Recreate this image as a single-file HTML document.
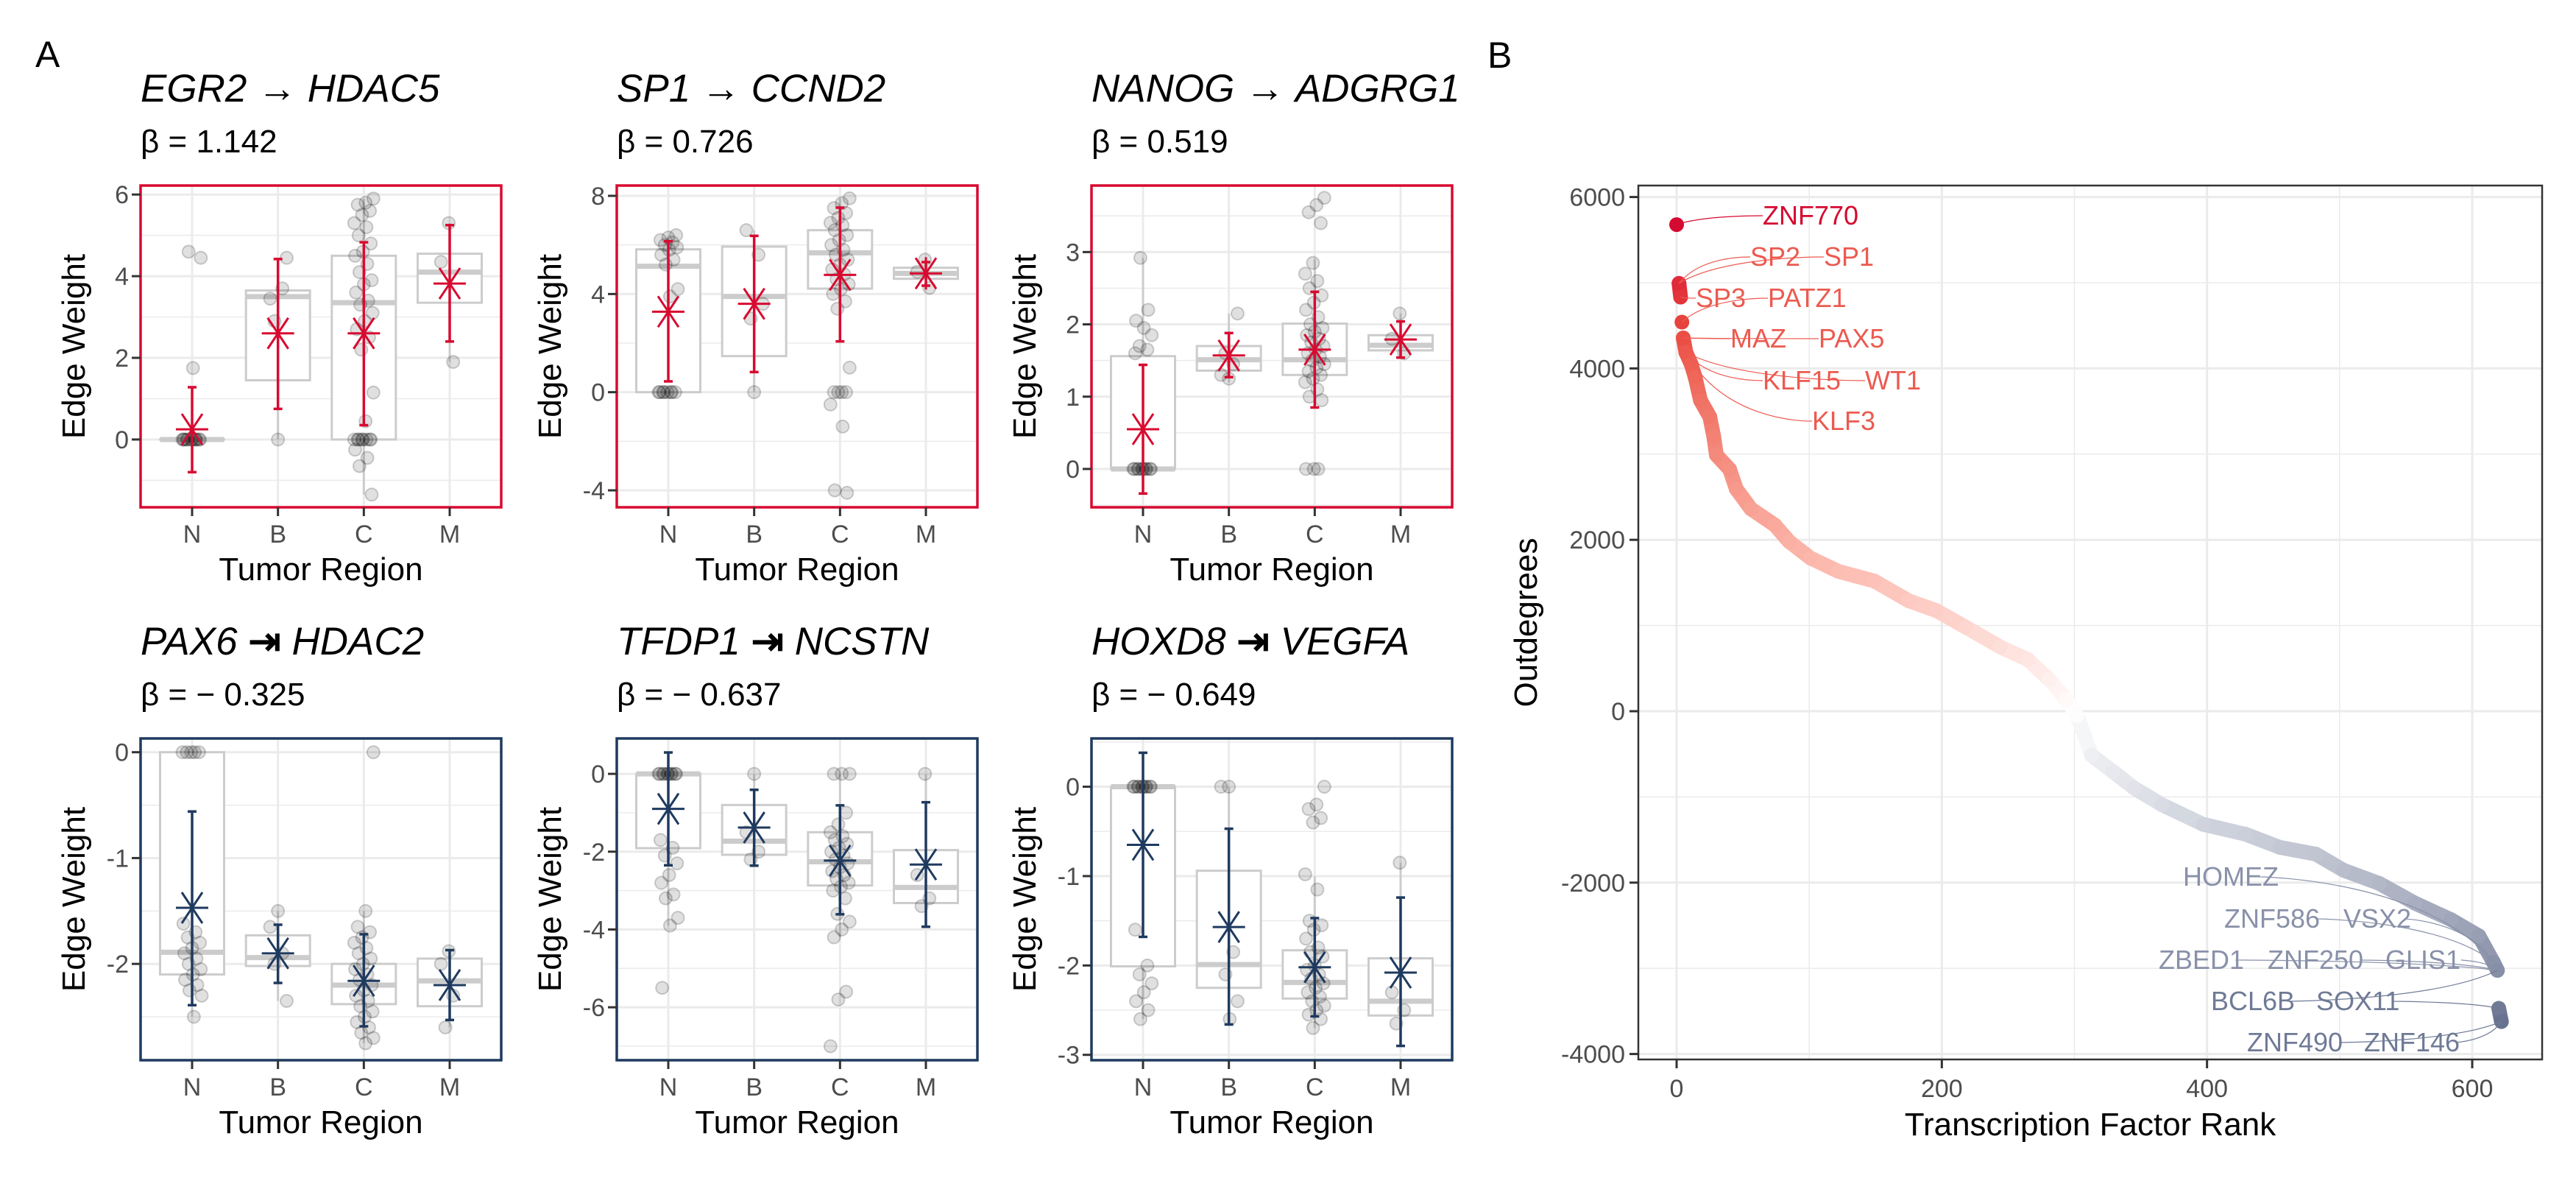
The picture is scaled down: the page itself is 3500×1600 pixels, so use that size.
<!DOCTYPE html>
<html><head><meta charset="utf-8"><title>Edge weights and outdegrees</title>
<style>
html,body{margin:0;padding:0;background:#fff;}
svg{display:block;font-family:"Liberation Sans",Arial,sans-serif;}
</style></head>
<body>
<svg id="fig" width="3500" height="1600" viewBox="0 0 3500 1600" xmlns="http://www.w3.org/2000/svg">
<rect width="3500" height="1600" fill="#fff"/>
<text x="48" y="91" font-size="50">A</text>
<text x="2021" y="92" font-size="50">B</text>
</svg>
<script>
const categories = ['N','B','C','M'];

// Box stats per group: [q1, median, q3, whiskerLo, whiskerHi]
const egr2Box = [[0,0,0,0,0],[1.45,3.5,3.65,0,4.45],[0,3.35,4.5,-1.35,5.9],[3.35,4.1,4.55,1.9,5.3]];
const egr2Mean = [0.25,2.6,2.6,3.82];
const egr2Lo = [-0.8,0.75,0.35,2.4];
const egr2Hi = [1.28,4.42,4.83,5.25];
const egr2Points = [[0,0,0,0,0,0,0,0,0,0,0,0,4.6,4.45,1.75],[0,3.45,3.7,2.9,4.45],[5.9,5.8,5.75,5.6,5.5,5.3,5.2,5.0,4.8,4.6,4.5,4.3,4.1,3.9,3.8,3.6,3.4,3.3,3.1,2.9,2.7,2.5,2.2,1.15,0.45,0,0,0,0,0,0,0,0,-0.25,-0.45,-0.65,-1.35],[5.3,4.35,1.9]];

const sp1Box = [[0,5.13,5.82,0,6.4],[1.47,3.9,5.93,0,6.6],[4.22,5.68,6.6,2.0,7.9],[4.62,4.84,5.07,4.25,5.4]];
const sp1Mean = [3.28,3.6,4.78,4.84];
const sp1Lo = [0.44,0.82,2.07,4.34];
const sp1Hi = [6.15,6.37,7.52,5.3];
const sp1Points = [[0,0,0,0,0,0,0,0,6.4,6.3,6.2,6.1,6.0,5.9,5.8,5.6,5.4,5.2,4.2,3.9],[0,6.6,5.6,3.0,3.6],[7.9,7.7,7.5,7.3,7.1,6.9,6.8,6.6,6.4,6.2,6.0,5.8,5.6,5.4,5.2,5.0,4.8,4.6,4.4,4.2,4.0,3.7,3.4,1.0,0,0,0,0,-0.5,-1.4,-4.0,-4.1],[5.4,4.9,4.25]];

const nanogBox = [[0,0,1.56,0,2.92],[1.36,1.51,1.7,1.2,2.15],[1.3,1.51,2.01,0.95,2.9],[1.64,1.71,1.85,1.55,2.15]];
const nanogMean = [0.55,1.57,1.65,1.79];
const nanogLo = [-0.34,1.27,0.85,1.54];
const nanogHi = [1.44,1.88,2.45,2.04];
const nanogPoints = [[0,0,0,0,0,0,0,0,0,0,1.6,1.65,1.7,1.85,1.95,2.05,2.2,2.92],[1.25,1.3,1.45,1.6,2.15],[3.75,3.65,3.55,3.4,2.85,2.7,2.6,2.5,2.4,2.3,2.2,2.1,2.0,1.95,1.9,1.85,1.8,1.75,1.7,1.65,1.6,1.55,1.5,1.45,1.4,1.35,1.3,1.25,1.2,1.1,1.0,0.95,0,0,0],[2.15,1.8,1.6]];

const pax6Box = [[-2.1,-1.89,0,-2.5,0],[-2.02,-1.94,-1.73,-2.35,-1.5],[-2.38,-2.2,-2.0,-2.75,-1.5],[-2.4,-2.16,-1.95,-2.6,-1.88]];
const pax6Mean = [-1.47,-1.9,-2.16,-2.2];
const pax6Lo = [-2.39,-2.18,-2.59,-2.53];
const pax6Hi = [-0.56,-1.63,-1.72,-1.87];
const pax6Points = [[0,0,0,0,0,-1.62,-1.7,-1.75,-1.8,-1.85,-1.9,-1.95,-2.0,-2.05,-2.1,-2.15,-2.2,-2.25,-2.3,-2.5],[-1.5,-1.65,-1.9,-2.0,-2.35],[0,-1.5,-1.65,-1.7,-1.75,-1.8,-1.85,-1.9,-1.95,-2.0,-2.05,-2.1,-2.15,-2.2,-2.25,-2.3,-2.35,-2.4,-2.45,-2.5,-2.55,-2.6,-2.65,-2.7,-2.75],[-1.88,-2.0,-2.3,-2.6]];

const tfdp1Box = [[-1.91,0,0,-3.9,0],[-2.08,-1.73,-0.8,-2.3,0],[-2.87,-2.26,-1.5,-4.2,0],[-3.32,-2.92,-1.96,-3.4,0]];
const tfdp1Mean = [-0.9,-1.38,-2.23,-2.33];
const tfdp1Lo = [-2.35,-2.36,-3.61,-3.93];
const tfdp1Hi = [0.55,-0.41,-0.81,-0.73];
const tfdp1Points = [[0,0,0,0,0,0,0,0,0,0,-1.7,-1.9,-2.1,-2.3,-2.6,-2.8,-3.1,-3.2,-3.7,-3.9,-5.5],[0,-1.5,-2.0,-2.2],[0,0,0,-1.0,-1.3,-1.5,-1.6,-1.7,-1.8,-1.9,-2.0,-2.1,-2.2,-2.3,-2.4,-2.5,-2.6,-2.7,-2.8,-2.9,-3.0,-3.2,-3.6,-3.8,-4.0,-4.2,-5.6,-5.8,-7.0],[0,-2.6,-3.2,-3.4]];

const hoxd8Box = [[-2.01,0,0,-2.6,0],[-2.25,-1.99,-0.94,-2.6,0],[-2.37,-2.19,-1.83,-2.7,-1.0],[-2.56,-2.4,-1.92,-2.65,-0.85]];
const hoxd8Mean = [-0.65,-1.57,-2.02,-2.08];
const hoxd8Lo = [-1.68,-2.66,-2.57,-2.9];
const hoxd8Hi = [0.38,-0.47,-1.47,-1.24];
const hoxd8Points = [[0,0,0,0,0,0,0,0,0,0,-1.6,-2.0,-2.1,-2.2,-2.3,-2.4,-2.5,-2.6],[0,0,-1.85,-2.1,-2.4,-2.6],[0,-0.2,-0.25,-0.35,-0.4,-0.98,-1.15,-1.5,-1.55,-1.6,-1.7,-1.8,-1.85,-1.9,-2.0,-2.05,-2.1,-2.15,-2.2,-2.25,-2.3,-2.35,-2.4,-2.45,-2.5,-2.55,-2.6,-2.7],[-0.85,-2.3,-2.5,-2.65]];

const egr2Ticks = [0,2,4,6];
const sp1Ticks = [-4,0,4,8];
const nanogTicks = [0,1,2,3];
const pax6Ticks = [-2,-1,0];
const tfdp1Ticks = [-6,-4,-2,0];
const hoxd8Ticks = [-3,-2,-1,0];

// Panel B data
const tfRank = [0,1.8,3,4,5,7,11,14,18,25,28,30,40,45,56,74,85,101,122,149,175,196,218,244,265,281,294,302,313,329,345,366,397,429,455,482,503,530,557,584,605,616,619,620,622];
const tfOutdegree = [5678,4993,4832,4540,4356,4187,4050,3896,3627,3436,3205,2990,2822,2594,2362,2173,1978,1787,1632,1520,1289,1173,981,751,601,369,137,-52,-515,-704,-897,-1091,-1320,-1435,-1589,-1667,-1856,-2010,-2241,-2432,-2621,-2930,-3024,-3467,-3621];
const bTicksY = [-4000,-2000,0,2000,4000,6000];
const bTicksX = [0,200,400,600];
const tfLabels = ['ZNF770','SP2','SP1','SP3','PATZ1','MAZ','PAX5','KLF15','WT1','KLF3','HOMEZ','ZNF586','VSX2','ZBED1','ZNF250','GLIS1','BCL6B','SOX11','ZNF490','ZNF146'];
const tfLabelRank = [0,1.8,1.8,3,4,5,5,7,7,7,616,616,616,619,619,619,619,620,622,622];
const tfLabelValue = [5678,4993,4993,4832,4540,4356,4356,4187,4187,4187,-2930,-2930,-2930,-3024,-3024,-3024,-3024,-3467,-3621,-3621];

const NS = 'http://www.w3.org/2000/svg';
const svg = document.getElementById('fig');
function mk(tag, attrs, parent) {
  const e = document.createElementNS(NS, tag);
  for (const k in attrs) e.setAttribute(k, attrs[k]);
  (parent || svg).appendChild(e);
  return e;
}
const RED = '#D80A30', NAVY = '#1F3A5F';

const panels = [
  {key:'egr2', tf:'EGR2', tg:'HDAC5', arrow:'\u2192', beta:'\u03B2 = 1.142', left:191, top:252, dom:[-1.66,6.22], ticks:egr2Ticks, box:egr2Box, mean:egr2Mean, lo:egr2Lo, hi:egr2Hi, pts:egr2Points, col:RED},
  {key:'sp1', tf:'SP1', tg:'CCND2', arrow:'\u2192', beta:'\u03B2 = 0.726', left:838, top:252, dom:[-4.69,8.42], ticks:sp1Ticks, box:sp1Box, mean:sp1Mean, lo:sp1Lo, hi:sp1Hi, pts:sp1Points, col:RED},
  {key:'nanog', tf:'NANOG', tg:'ADGRG1', arrow:'\u2192', beta:'\u03B2 = 0.519', left:1483, top:252, dom:[-0.53,3.92], ticks:nanogTicks, box:nanogBox, mean:nanogMean, lo:nanogLo, hi:nanogHi, pts:nanogPoints, col:RED},
  {key:'pax6', tf:'PAX6', tg:'HDAC2', arrow:'\u21E5', beta:'\u03B2 = \u2212 0.325', left:191, top:1003, dom:[-2.91,0.13], ticks:pax6Ticks, box:pax6Box, mean:pax6Mean, lo:pax6Lo, hi:pax6Hi, pts:pax6Points, col:NAVY},
  {key:'tfdp1', tf:'TFDP1', tg:'NCSTN', arrow:'\u21E5', beta:'\u03B2 = \u2212 0.637', left:838, top:1003, dom:[-7.36,0.91], ticks:tfdp1Ticks, box:tfdp1Box, mean:tfdp1Mean, lo:tfdp1Lo, hi:tfdp1Hi, pts:tfdp1Points, col:NAVY},
  {key:'hoxd8', tf:'HOXD8', tg:'VEGFA', arrow:'\u21E5', beta:'\u03B2 = \u2212 0.649', left:1483, top:1003, dom:[-3.06,0.54], ticks:hoxd8Ticks, box:hoxd8Box, mean:hoxd8Mean, lo:hoxd8Lo, hi:hoxd8Hi, pts:hoxd8Points, col:NAVY}
];
const PW = 490, PH = 437;

panels.forEach(p => {
  const g = mk('g', {});
  
  
  const L = p.left, T = p.top, R = L + PW, B = T + PH;
  const y = v => B - (v - p.dom[0]) / (p.dom[1] - p.dom[0]) * PH;
  const x = i => L + (i + 0.6) / 4.2 * PW;
  const t = mk('text', {x:L, y:T-114, 'font-size':53}, g);
  
  
  const s1 = mk('tspan', {'font-style':'italic'}, t); s1.textContent = p.tf;
  const s2 = mk('tspan', {'font-weight':'bold'}, t); s2.textContent = ' ' + p.arrow + ' ';
  const s3 = mk('tspan', {'font-style':'italic'}, t); s3.textContent = p.tg;
  const bt = mk('text', {x:L, y:T-45, 'font-size':44}, g);
  
  
  bt.textContent = p.beta;
  const step = p.ticks[1] - p.ticks[0];
  for (let v = p.ticks[0] - step/2; v <= p.dom[1]; v += step/2) {
    if (v < p.dom[0]) continue;
    const major = p.ticks.some(tv => Math.abs(tv - v) < 1e-9);
    mk('line', {x1:L, x2:R, y1:y(v), y2:y(v), stroke:'#EBEBEB', 'stroke-width': major ? 3 : 1.5}, g);
  }
  categories.forEach((c, i) => mk('line', {x1:x(i), x2:x(i), y1:T, y2:B, stroke:'#EBEBEB', 'stroke-width':3}, g));
  categories.forEach((c, i) => {
    const [q1, md, q3, wl, wh] = p.box[i];
    const bw = 87;
    mk('line', {x1:x(i), x2:x(i), y1:y(q3), y2:y(wh), stroke:'#CCCCCC', 'stroke-width':3}, g);
    mk('line', {x1:x(i), x2:x(i), y1:y(q1), y2:y(wl), stroke:'#CCCCCC', 'stroke-width':3}, g);
    const r = mk('rect', {x:x(i)-bw/2, y:y(q3), width:bw, height:Math.max(0.1, y(q1)-y(q3)), fill:'#fff', stroke:'#CCCCCC', 'stroke-width':3}, g);
    
    
    mk('line', {x1:x(i)-bw/2, x2:x(i)+bw/2, y1:y(md), y2:y(md), stroke:'#CCCCCC', 'stroke-width':7}, g);
  });
  categories.forEach((c, i) => {
    p.pts[i].forEach((v, j) => {
      const jit = (((j * 37 + i * 11) % 23) / 22 - 0.5) * 26;
      const pt = mk('circle', {cx:x(i)+jit, cy:y(v), r:8.5, fill:'rgba(0,0,0,0.12)', stroke:'rgba(0,0,0,0.18)', 'stroke-width':2}, g);
      
      
    });
  });
  categories.forEach((c, i) => {
    const xi = x(i);
    mk('line', {x1:xi, x2:xi, y1:y(p.lo[i]), y2:y(p.hi[i]), stroke:p.col, 'stroke-width':3.5}, g);
    mk('line', {x1:xi-6, x2:xi+6, y1:y(p.lo[i]), y2:y(p.lo[i]), stroke:p.col, 'stroke-width':3.5}, g);
    mk('line', {x1:xi-6, x2:xi+6, y1:y(p.hi[i]), y2:y(p.hi[i]), stroke:p.col, 'stroke-width':3.5}, g);
    const ym = y(p.mean[i]);
    const m = mk('g', {stroke:p.col, 'stroke-width':3}, g);
    
    
    mk('line', {x1:xi-22, x2:xi+22, y1:ym, y2:ym}, m);
    mk('line', {x1:xi, x2:xi, y1:ym-22, y2:ym+22}, m);
    mk('line', {x1:xi-14, x2:xi+14, y1:ym-21, y2:ym+21}, m);
    mk('line', {x1:xi-14, x2:xi+14, y1:ym+21, y2:ym-21}, m);
  });
  const bd = mk('rect', {x:L, y:T, width:PW, height:PH, fill:'none', stroke:p.col, 'stroke-width':3.5}, g);
  
  
  p.ticks.forEach(v => {
    mk('line', {x1:L-12, x2:L, y1:y(v), y2:y(v), stroke:'#333', 'stroke-width':3}, g);
    const tl = mk('text', {x:L-16, y:y(v)+12, 'font-size':34, fill:'#4D4D4D', 'text-anchor':'end'}, g);
    
    
    tl.textContent = String(v);
  });
  categories.forEach((c, i) => {
    mk('line', {x1:x(i), x2:x(i), y1:B, y2:B+12, stroke:'#333', 'stroke-width':3}, g);
    const tl = mk('text', {x:x(i), y:B+48, 'font-size':34, fill:'#4D4D4D', 'text-anchor':'middle'}, g);
    
    
    tl.textContent = c;
  });
  const xt = mk('text', {x:L+PW/2, y:B+99, 'font-size':44, 'text-anchor':'middle'}, g);
  
  
  xt.textContent = 'Tumor Region';
  const yt = mk('text', {x:0, y:0, 'font-size':44, 'text-anchor':'middle', transform:`translate(${L-76},${T+PH/2}) rotate(-90)`}, g);
  
  
  yt.textContent = 'Edge Weight';
});

// ---------- Panel B ----------
(function(){
  const g = mk('g', {});
  
  
  const L = 2226, R = 3454, T = 252, B = 1439;
  const x = r => 2278 + r / 600 * (3359 - 2278);
  const y = v => 966 - v * 0.1164;
  mk('rect', {x:L, y:T, width:R-L, height:B-T, fill:'#fff'}, g);
  for (let v = -5000; v <= 6000; v += 1000) {
    if (y(v) < T || y(v) > B) continue;
    mk('line', {x1:L, x2:R, y1:y(v), y2:y(v), stroke:'#EBEBEB', 'stroke-width': v % 2000 === 0 ? 3 : 1.5}, g);
  }
  for (let r = -100; r <= 700; r += 100) {
    if (x(r) < L || x(r) > R) continue;
    mk('line', {x1:x(r), x2:x(r), y1:T, y2:B, stroke:'#EBEBEB', 'stroke-width': r % 200 === 0 ? 3 : 1.5}, g);
  }
  const stopsV = [-3650,-3000,-2000,-1000,0,1000,2000,3000,4000,4500,5680];
  const stopsC = [[103,114,142],[136,144,168],[179,184,199],[221,224,231],[255,255,255],[253,213,206],[251,175,163],[244,138,124],[238,99,85],[232,69,63],[213,10,48]];
  const colorOf = v => {
    v = Math.max(stopsV[0], Math.min(stopsV[stopsV.length-1], v));
    let k = 0; while (k < stopsV.length - 2 && v > stopsV[k+1]) k++;
    const t = (v - stopsV[k]) / (stopsV[k+1] - stopsV[k]);
    return 'rgb(' + stopsC[k].map((c, i) => Math.round(c + (stopsC[k+1][i] - c) * t)).join(',') + ')';
  };
  for (let i = 1; i < tfRank.length - 1; i++) {
    const slope = Math.abs(tfOutdegree[i+1] - tfOutdegree[i]) / (tfRank[i+1] - tfRank[i]);
    if (slope > 150) continue;
    const seg = mk('line', {x1:x(tfRank[i]), y1:y(tfOutdegree[i]), x2:x(tfRank[i+1]), y2:y(tfOutdegree[i+1]), stroke:colorOf((tfOutdegree[i]+tfOutdegree[i+1])/2), 'stroke-width':20, 'stroke-linecap':'round'}, g);
    
    
  }
  tfRank.forEach((r, i) => {
    const c = mk('circle', {cx:x(r), cy:y(tfOutdegree[i]), r:10, fill:colorOf(tfOutdegree[i])}, g);
    
    
  });
  const lblX = [2395,2378,2478,2304,2402,2351,2471,2395,2534,2462,2966,3022,3184,2933,3081,3241,3004,3147,3053,3212];
  const lblY = [305,361,361,417,417,472,472,529,529,584,1203,1260,1260,1316,1316,1316,1372,1372,1428,1428];
  tfLabels.forEach((name, i) => {
    const v = tfLabelValue[i];
    const col = i === 0 ? '#D50A30' : (v > 0 ? '#EC5A50' : (i >= 16 ? '#6F7A96' : '#8991A9'));
    const px = x(tfLabelRank[i]), py = y(v);
    const w = name.length * 21;
    const lx = lblX[i] < px ? lblX[i] + w : lblX[i];
    const ln = mk('path', {d:`M${px},${py} C${px+(lx-px)*0.3},${lblY[i]-12} ${lx-10},${lblY[i]-12} ${lx},${lblY[i]-12}`, fill:'none', stroke:col, 'stroke-width':1.2}, g);
    
    
    const t = mk('text', {x:lblX[i], y:lblY[i], 'font-size':36, fill:col}, g);
    
    
    t.textContent = name;
  });
  const bd = mk('rect', {x:L, y:T, width:R-L, height:B-T, fill:'none', stroke:'#333', 'stroke-width':2.5}, g);
  
  
  bTicksY.forEach(v => {
    mk('line', {x1:L-12, x2:L, y1:y(v), y2:y(v), stroke:'#333', 'stroke-width':3}, g);
    const t = mk('text', {x:L-18, y:y(v)+12, 'font-size':34, fill:'#4D4D4D', 'text-anchor':'end'}, g);
    
    
    t.textContent = String(v);
  });
  bTicksX.forEach(r => {
    mk('line', {x1:x(r), x2:x(r), y1:B, y2:B+12, stroke:'#333', 'stroke-width':3}, g);
    const t = mk('text', {x:x(r), y:B+51, 'font-size':34, fill:'#4D4D4D', 'text-anchor':'middle'}, g);
    
    
    t.textContent = String(r);
  });
  const xt = mk('text', {x:(L+R)/2, y:1542, 'font-size':44, 'text-anchor':'middle'}, g);
  
  
  xt.textContent = 'Transcription Factor Rank';
  const yt = mk('text', {x:0, y:0, 'font-size':44, 'text-anchor':'middle', transform:`translate(2088,${(T+B)/2}) rotate(-90)`}, g);
  
  
  yt.textContent = 'Outdegrees';
})();
</script>
</body></html>
